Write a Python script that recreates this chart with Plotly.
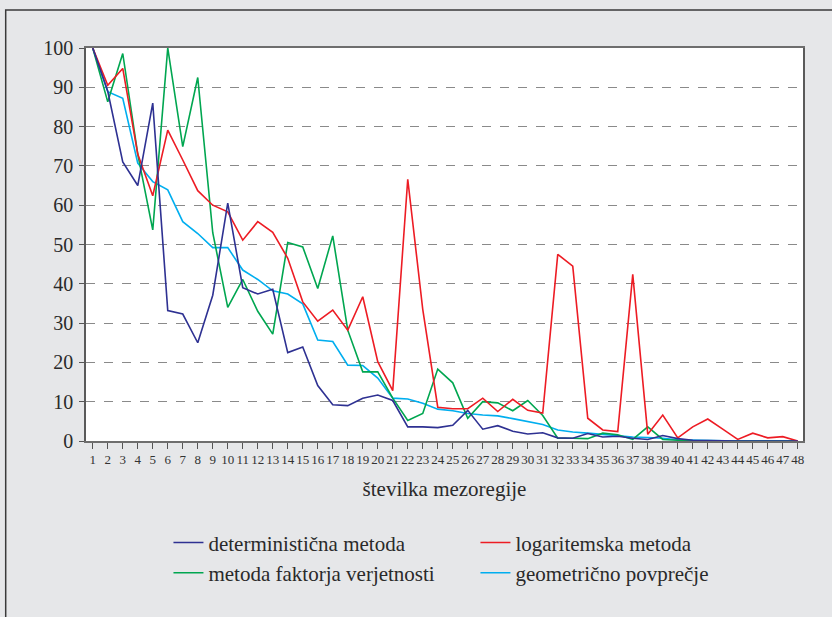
"""Line chart: four methods across 48 mesoregions."""

import plotly.graph_objects as go

# --- data ---
regions = list(range(1, 49))

deterministicna = [
    100, 89, 71, 65, 86, 33.2, 32.3, 25, 37.1, 60.5,
    39, 37.4, 38.6, 22.5, 23.9, 14.1, 9.2, 9.0, 10.9, 11.7,
    10.3, 3.6, 3.6, 3.4, 4.0, 7.8, 3.0, 3.9, 2.5, 1.8,
    2.1, 0.8, 0.7, 1.9, 1.0, 1.2, 0.7, 0.4, 1.4, 0.6,
    0.2, 0.1, 0, 0, 0, 0, 0, 0,
]
logaritemska = [
    100, 90.5, 94.8, 73, 62.4, 79.1, 71.5, 63.7, 60, 58.3,
    51.1, 55.8, 53.1, 46.5, 35.4, 30.5, 33.3, 28.2, 36.7, 20.2,
    12.8, 66.6, 33.5, 8.6, 8.2, 8.2, 10.9, 7.5, 10.6, 7.8,
    7.1, 47.5, 44.5, 5.8, 2.8, 2.4, 42.4, 1.7, 6.6, 0.8,
    3.6, 5.6, 3.0, 0.4, 2.0, 0.8, 1.1, 0,
]
faktor_verjetnosti = [
    100, 86.3, 98.6, 73, 53.7, 100, 74.9, 92.5, 53, 34.0,
    41.1, 33, 27.2, 50.5, 49.4, 38.8, 52.2, 28.2, 17.6, 17.6,
    10.9, 5.2, 7.0, 18.3, 14.8, 5.8, 10.0, 9.7, 7.7, 10.3,
    6.5, 0.7, 0.7, 0.6, 2.0, 1.6, 0.4, 3.6, 0.4, 0.2,
    0, 0, 0, 0, 0, 0, 0, 0,
]
geometricno = [
    100, 88.9, 87.2, 70.7, 66, 63.9, 55.8, 52.8, 49.2, 49.2,
    43.5, 41.1, 38.2, 37.4, 34.9, 25.7, 25.3, 19.3, 19.2, 16.0,
    10.9, 10.7, 9.6, 8.1, 7.7, 7.0, 6.6, 6.4, 5.7, 4.9,
    4.2, 2.8, 2.3, 2.0, 1.7, 1.4, 1.0, 0.9, 0.7, 0.3,
    0.2, 0.1, 0, 0, 0, 0, 0, 0,
]

series = [
    ("deterministična metoda", deterministicna, "#2e3192"),
    ("logaritemska metoda", logaritemska, "#ed1c24"),
    ("metoda faktorja verjetnosti", faktor_verjetnosti, "#00a650"),
    ("geometrično povprečje", geometricno, "#00aeef"),
]

FONT = "'Liberation Serif', 'Times New Roman', serif"

fig = go.Figure()

# draw order: blue on top as in the reference
for name, values, color in [series[3], series[2], series[1], series[0]]:
    fig.add_trace(
        go.Scatter(
            x=regions,
            y=values,
            mode="lines",
            name=name,
            line=dict(color=color, width=1.6),
            showlegend=False,
        )
    )

# legend entries in the reference order
for name, values, color in series:
    fig.add_trace(
        go.Scatter(
            x=[None],
            y=[None],
            mode="lines",
            name=name,
            line=dict(color=color, width=1.6),
        )
    )

# outer frame
fig.add_shape(
    type="rect",
    xref="paper",
    yref="paper",
    x0=-0.112,
    x1=1.3,
    y0=-0.6,
    y1=1.097,
    line=dict(color="#3a3a3a", width=1.5),
    layer="below",
)

fig.update_xaxes(
    range=[0.55, 48.35],
    tickmode="array",
    tickvals=regions,
    ticktext=[str(r) for r in regions],
    tickangle=0,
    ticks="outside",
    ticklen=6,
    tickcolor="#555555",
    tickfont=dict(family=FONT, size=13, color="#333333"),
    showgrid=False,
    zeroline=False,
    showline=True,
    linecolor="#6e6e6e",
    linewidth=1.5,
    mirror=True,
    title=dict(
        text="številka mezoregije",
        font=dict(family=FONT, size=21, color="#2a2a2a"),
        standoff=15,
    ),
)

fig.update_yaxes(
    range=[0, 100],
    tickvals=list(range(0, 101, 10)),
    ticks="outside",
    ticklen=5,
    tickcolor="#555555",
    tickfont=dict(family=FONT, size=20, color="#2a2a2a"),
    ticklabelstandoff=2,
    showgrid=True,
    gridcolor="#8a8a8a",
    gridwidth=1.2,
    griddash="dash",
    zeroline=False,
    showline=True,
    linecolor="#5a5a5a",
    linewidth=1.5,
    mirror=True,
)

fig.update_layout(
    width=832,
    height=617,
    margin=dict(l=86, r=29, t=48, b=176),
    paper_bgcolor="#e6e7e9",
    plot_bgcolor="#ffffff",
    font=dict(family=FONT, color="#2a2a2a"),
    legend=dict(
        orientation="h",
        x=0.115,
        xanchor="left",
        y=-0.207,
        yanchor="top",
        entrywidth=262,
        entrywidthmode="pixels",
        bgcolor="rgba(0,0,0,0)",
        font=dict(family=FONT, size=21, color="#2a2a2a"),
        tracegroupgap=0,
    ),
)

# the page is photographed at 832x617: drop the default body margin
fig.write_html(
    "out.html",
    config={"displayModeBar": False},
    post_script="document.body.style.margin='0px';",
)
